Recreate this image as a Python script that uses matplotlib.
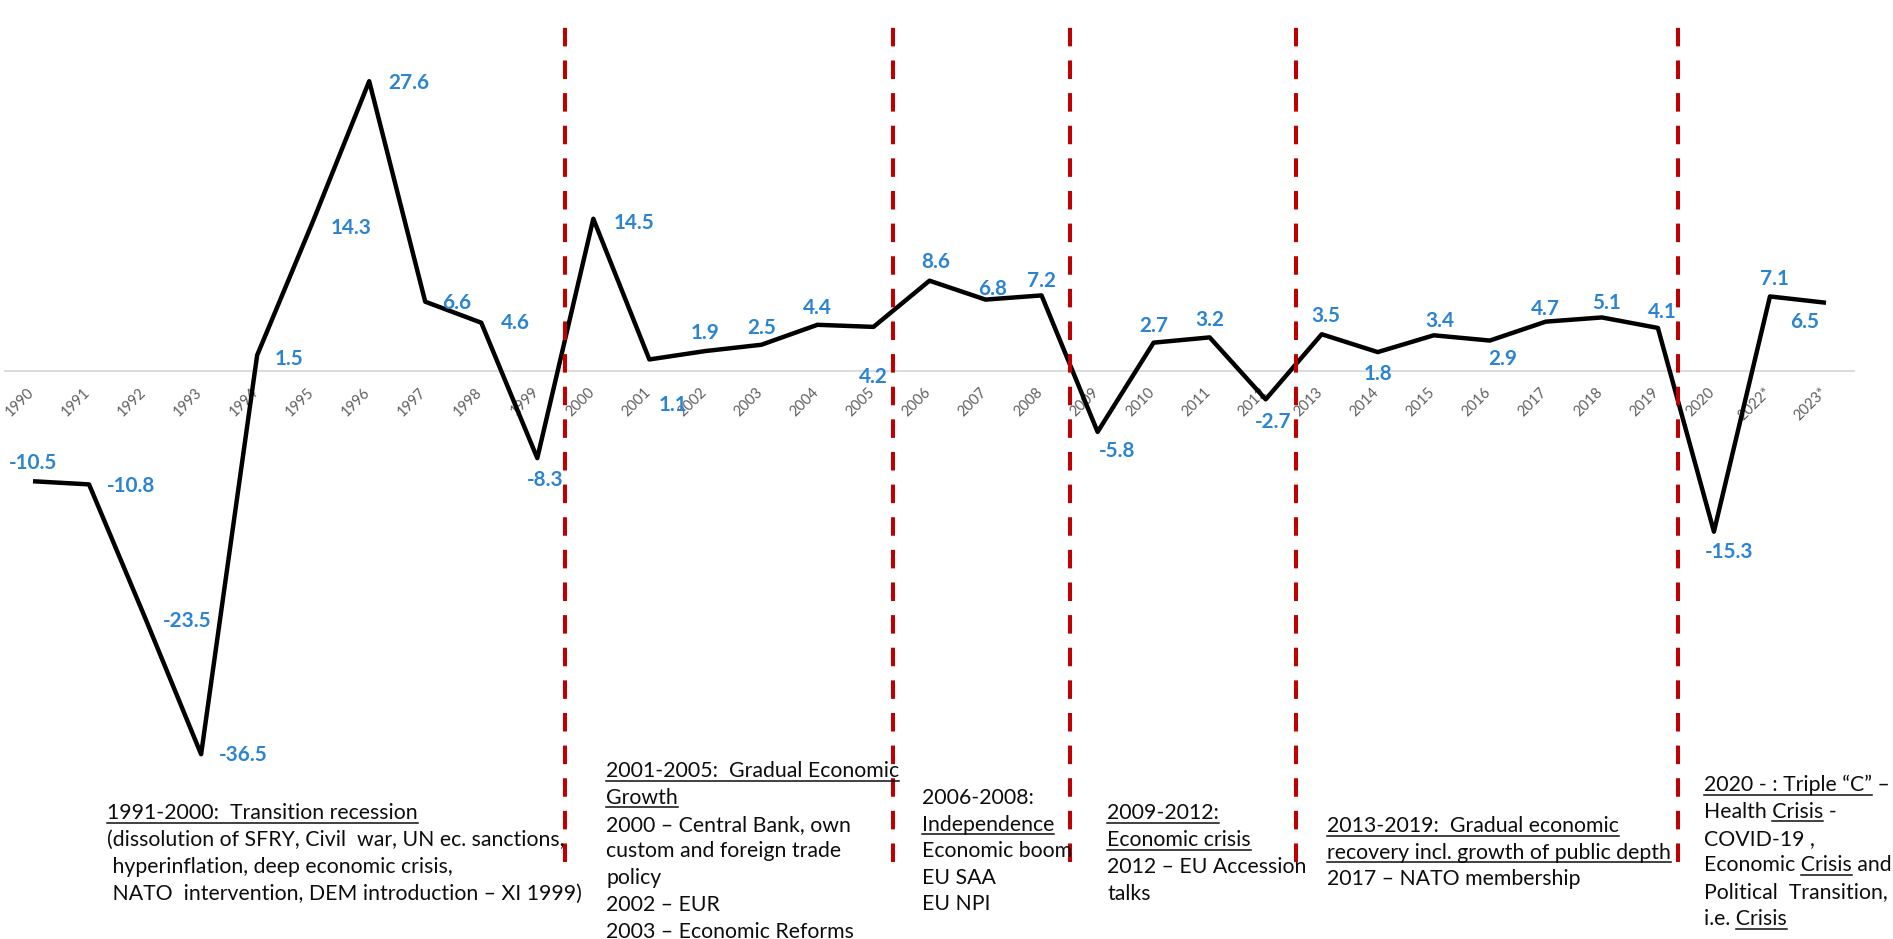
import matplotlib
matplotlib.use("Agg")
import matplotlib.pyplot as plt
import matplotlib.transforms as mtransforms
from matplotlib.lines import Line2D
from matplotlib.font_manager import FontProperties
import numpy as np

# ---------------- data ----------------
years = ["1990", "1991", "1992", "1993", "1994", "1995", "1996", "1997", "1998", "1999",
         "2000", "2001", "2002", "2003", "2004", "2005", "2006", "2007", "2008", "2009",
         "2010", "2011", "2012", "2013", "2014", "2015", "2016", "2017", "2018", "2019",
         "2020", "2022*", "2023*"]
growth = [-10.5, -10.8, -23.5, -36.5, 1.5, 14.3, 27.6, 6.6, 4.6, -8.3,
          14.5, 1.1, 1.9, 2.5, 4.4, 4.2, 8.6, 6.8, 7.2, -5.8,
          2.7, 3.2, -2.7, 3.5, 1.8, 3.4, 2.9, 4.7, 5.1, 4.1,
          -15.3, 7.1, 6.5]
# period boundaries (in category units)
period_breaks = [9.5, 15.34, 18.5, 22.55, 29.35]

# period descriptions: list of lines, each line = list of (text, underlined)
period_texts = [
    [[("1991-2000:  Transition recession", True)],
     [("(dissolution of SFRY, Civil  war, UN ec. sanctions,", False)],
     [(" hyperinflation, deep economic crisis,", False)],
     [(" NATO  intervention, DEM introduction \u2013 XI 1999)", False)]],
    [[("2001-2005:  Gradual Economic", True)],
     [("Growth", True)],
     [("2000 \u2013 Central Bank, own", False)],
     [("custom and foreign trade", False)],
     [("policy", False)],
     [("2002 \u2013 EUR", False)],
     [("2003 \u2013 Economic Reforms", False)]],
    [[("2006-2008:", False)],
     [("Independence", True)],
     [("Economic boom", False)],
     [("EU SAA", False)],
     [("EU NPI", False)]],
    [[("2009-2012:", True)],
     [("Economic crisis", True)],
     [("2012 \u2013 EU Accession", False)],
     [("talks", False)]],
    [[("2013-2019:  Gradual economic", True)],
     [("recovery incl. growth of public depth", True)],
     [("2017 \u2013 NATO membership", False)]],
    [[("2020 - : Triple \u201cC\u201d", True), (" \u2013", False)],
     [("Health ", False), ("Crisis", True), (" -", False)],
     [("COVID-19 ,", False)],
     [("Economic ", False), ("Crisis", True), (" and", False)],
     [("Political  Transition,", False)],
     [("i.e. ", False), ("Crisis", True)]],
]

# ---------------- layout / style ----------------
W, H = 1893, 939
ZERO_PX = 371.0      # y pixel of zero line
PX_PER_UNIT = 10.5
LEFT_PX, RIGHT_PX = 5, 1854

# label offsets in pixels (dx, dy up, ha)
label_offsets = [
    (0, 18, "center"), (18, -2, "left"), (18, -3, "left"), (18, -1, "left"),
    (18, -4, "left"), (18, -7, "left"), (19, -2, "left"), (17, -1, "left"),
    (20, 0, "left"), (8, -22, "center"), (20, -4, "left"), (24, -46, "center"),
    (0, 18, "center"), (0, 17, "center"), (0, 17, "center"), (0, -50, "center"),
    (6, 19, "center"), (7, 11, "center"), (0, 14, "center"), (20, -19, "center"),
    (0, 17, "center"), (0, 17, "center"), (8, -23, "center"), (4, 18, "center"),
    (0, -22, "center"), (6, 14, "center"), (13, -18, "center"), (0, 13, "center"),
    (5, 14, "center"), (4, 16, "center"), (15, -20, "center"), (4, 17, "center"),
    (-21, -19, "center"),
]
# text block anchors: (left x px, first line centre y px, line spacing px)
block_pos = [(107, 812, 27.0), (606, 770, 26.8), (922, 797, 26.6),
             (1107, 812, 27.0), (1327, 825, 26.6), (1704, 784, 26.8)]

BLUE = "#2b84d2"
RED = "#C00000"
FONT = "Lato"

fig = plt.figure(figsize=(W / 100, H / 100), dpi=100)
ax = fig.add_axes([LEFT_PX / W, 0, (RIGHT_PX - LEFT_PX) / W, 1])
x = np.arange(len(years))
ax.plot(x, growth, color="black", lw=3.2, zorder=3, solid_joinstyle="round",
        solid_capstyle="butt")
ax.set_xlim(-0.5, len(years) - 0.5)
ax.set_ylim(-(H - ZERO_PX) / PX_PER_UNIT, ZERO_PX / PX_PER_UNIT)
for s in ["top", "right", "left"]:
    ax.spines[s].set_visible(False)
ax.spines["bottom"].set_position(("data", 0))
ax.spines["bottom"].set_color("#d9d9d9")
ax.spines["bottom"].set_linewidth(1.3)
ax.spines["bottom"].set_zorder(1)
ax.set_yticks([])
ax.set_xticks(x)

fig.canvas.draw()
rend = fig.canvas.get_renderer()


def text_w(s, fp):
    return rend.get_text_width_height_descent(s, fp, ismath=False)[0]


def fit_size(sample, target_px, weight="normal"):
    fp = FontProperties(family=FONT, size=20, weight=weight)
    return 20 * target_px / text_w(sample, fp)


tick_size = fit_size("1990", 34)
lab_size = fit_size("27.6", 41, "bold")
body_size = fit_size("recovery incl. growth of public depth", 344)

ax.set_xticklabels(years, rotation=45, ha="right", va="top", rotation_mode="anchor",
                   fontsize=tick_size, family=FONT, color="#5f5f5f")
ax.tick_params(axis="x", length=0, pad=10)
shift = mtransforms.ScaledTranslation(-6 / 100, 0, fig.dpi_scale_trans)
for lbl in ax.get_xticklabels():
    lbl.set_transform(lbl.get_transform() + shift)

# period separators
for b in period_breaks:
    ax.axvline(b, ymin=1 - 862 / H, ymax=1 - 15 / H, color=RED, lw=2.9,
               dashes=(4.6, 3.5), zorder=4)

# data labels
for i, v in enumerate(growth):
    dx, dy, ha = label_offsets[i]
    ax.annotate(f"{v:.1f}", (i, v), xytext=(dx, dy), textcoords="offset pixels",
                ha=ha, va="center", fontsize=lab_size, fontweight="bold",
                family=FONT, color=BLUE, zorder=5)

# text blocks
fp_body = FontProperties(family=FONT, size=body_size)
for (bx, by, dy), lines in zip(block_pos, period_texts):
    for k, segs in enumerate(lines):
        yc = by + k * dy
        base = yc + 7
        full = "".join(t for t, _ in segs)
        fig.text(bx / W, 1 - base / H, full, fontproperties=fp_body, color="#0d0d0d",
                 ha="left", va="baseline")
        prefix = ""
        for t, ul in segs:
            if ul:
                core = t.rstrip()
                end = text_w(prefix + core, fp_body)
                start = end - text_w(core, fp_body)
                uy = 1 - (base + 3.5) / H
                fig.add_artist(Line2D([(bx + start) / W, (bx + end) / W], [uy, uy],
                                      transform=fig.transFigure, color="#0d0d0d", lw=1.1))
            prefix += t

fig.savefig("out.png", dpi=100, facecolor="white")
